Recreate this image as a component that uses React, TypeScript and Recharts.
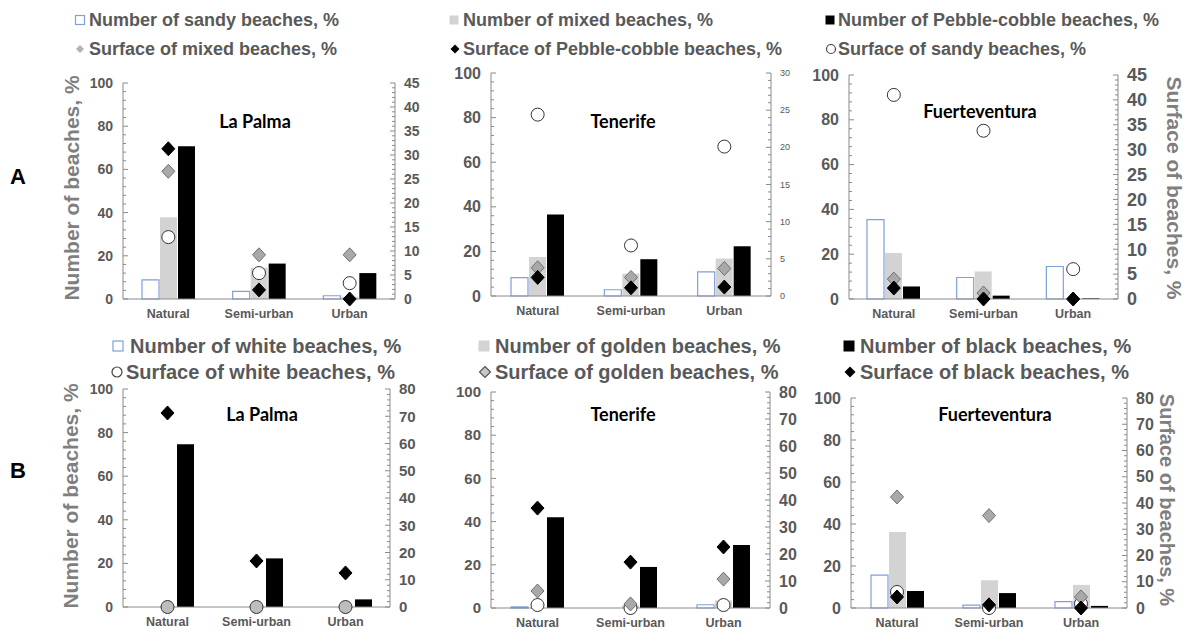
import React from "react";
import { Bar, ComposedChart, Line, XAxis, YAxis } from "recharts";

const categories = ["Natural", "Semi-urban", "Urban"];

// Row A: grain size. Number of beaches (%) on the left axis, surface (%) on the right axis
const aLaPalmaSandyNum = [8.9, 3.5, 1.5];
const aLaPalmaMixedNum = [37.8, 14.5, 1];
const aLaPalmaPebbleNum = [70.7, 16.4, 12];
const aLaPalmaSandySurf = [12.9, 5.4, 3.3];
const aLaPalmaMixedSurf = [26.6, 9.2, 9.2];
const aLaPalmaPebbleSurf = [31.3, 1.9, 0];

const aTenerifeSandyNum = [8.2, 2.8, 10.8];
const aTenerifeMixedNum = [17.5, 10, 16.8];
const aTenerifePebbleNum = [36.6, 16.5, 22.3];
const aTenerifeSandySurf = [24.4, 6.8, 20.1];
const aTenerifeMixedSurf = [3.8, 2.5, 3.7];
const aTenerifePebbleSurf = [2.5, 1.1, 1.2];

const aFuerteSandyNum = [35.4, 9.6, 14.5];
const aFuerteMixedNum = [20.5, 12.3, 0];
const aFuertePebbleNum = [5.6, 1.5, 0.3];
const aFuerteSandySurf = [41, 33.8, 6];
const aFuerteMixedSurf = [4, 1.2, 0];
const aFuertePebbleSurf = [2.2, 0, 0];

// Row B: colour
const bLaPalmaWhiteNum = [0, 0, 0];
const bLaPalmaGoldenNum = [0, 0, 0];
const bLaPalmaBlackNum = [74.7, 22.3, 3.5];
const bLaPalmaWhiteSurf = [0, 0, 0];
const bLaPalmaGoldenSurf = [null, null, null];
const bLaPalmaBlackSurf = [71.2, 16.9, 12.5];

const bTenerifeWhiteNum = [0.5, 0, 1.5];
const bTenerifeGoldenNum = [0, 1.5, 3.5];
const bTenerifeBlackNum = [42, 19, 29.2];
const bTenerifeWhiteSurf = [1.1, 0, 1.1];
const bTenerifeGoldenSurf = [6.3, 1.5, 10.7];
const bTenerifeBlackSurf = [37, 17, 22.6];

const bFuerteWhiteNum = [15.7, 1.4, 3];
const bFuerteGoldenNum = [36.2, 13.2, 11];
const bFuerteBlackNum = [8.1, 7.1, 1];
const bFuerteWhiteSurf = [6.1, 0, 1.6];
const bFuerteGoldenSurf = [42.3, 35.2, 4.2];
const bFuerteBlackSurf = [4.2, 1.2, 0];

const topLegend1 = ["Number of sandy beaches, %", "Number of mixed beaches, %", "Number of Pebble-cobble beaches, %"];
const topLegend2 = ["Surface of mixed beaches, %", "Surface of Pebble-cobble beaches, %", "Surface of sandy beaches, %"];
const botLegend1 = ["Number of white beaches, %", "Number of golden beaches, %", "Number of black beaches, %"];
const botLegend2 = ["Surface of white beaches, %", "Surface of golden beaches, %", "Surface of black beaches, %"];

const AXIS = "#8a8a8a";
const TXT = "#595959";
const FONT = "'Liberation Sans', Arial, sans-serif";
const BLUE = "#7fa0dc";
const LIGHT = "#d3d3d3";

type Panel = {
  title: string;
  titleX: number;
  titleY: number;
  left: number;
  right: number;
  top: number;
  bottom: number;
  rightMax: number;
  rightStep: number;
  rightMinor: number;
  leftFont: number;
  rightFont: number;
  rightBold: boolean;
  n1: number[];
  n2: number[];
  n3: number[];
  sCircle: (number | null)[];
  sGray: (number | null)[];
  sBlack: (number | null)[];
  circleFill: string;
};

const panels: Panel[] = [
  {
    title: "La Palma", titleX: 255, titleY: 122,
    left: 123, right: 395, top: 83, bottom: 299,
    rightMax: 45, rightStep: 5, rightMinor: 1, leftFont: 14, rightFont: 14, rightBold: true,
    n1: aLaPalmaSandyNum, n2: aLaPalmaMixedNum, n3: aLaPalmaPebbleNum,
    sCircle: aLaPalmaSandySurf, sGray: aLaPalmaMixedSurf, sBlack: aLaPalmaPebbleSurf, circleFill: "#fff",
  },
  {
    title: "Tenerife", titleX: 623, titleY: 122,
    left: 491, right: 771, top: 73, bottom: 296,
    rightMax: 30, rightStep: 5, rightMinor: 1, leftFont: 16, rightFont: 9, rightBold: false,
    n1: aTenerifeSandyNum, n2: aTenerifeMixedNum, n3: aTenerifePebbleNum,
    sCircle: aTenerifeSandySurf, sGray: aTenerifeMixedSurf, sBlack: aTenerifePebbleSurf, circleFill: "#fff",
  },
  {
    title: "Fuerteventura", titleX: 980, titleY: 112,
    left: 849, right: 1118, top: 75, bottom: 299,
    rightMax: 45, rightStep: 5, rightMinor: 1, leftFont: 16, rightFont: 18, rightBold: true,
    n1: aFuerteSandyNum, n2: aFuerteMixedNum, n3: aFuertePebbleNum,
    sCircle: aFuerteSandySurf, sGray: aFuerteMixedSurf, sBlack: aFuertePebbleSurf, circleFill: "#fff",
  },
  {
    title: "La Palma", titleX: 262, titleY: 415,
    left: 123, right: 390, top: 389, bottom: 607,
    rightMax: 80, rightStep: 10, rightMinor: 2, leftFont: 14, rightFont: 15, rightBold: true,
    n1: bLaPalmaWhiteNum, n2: bLaPalmaGoldenNum, n3: bLaPalmaBlackNum,
    sCircle: bLaPalmaWhiteSurf, sGray: bLaPalmaGoldenSurf, sBlack: bLaPalmaBlackSurf, circleFill: "#bdbdbd",
  },
  {
    title: "Tenerife", titleX: 623, titleY: 415,
    left: 491, right: 770, top: 392, bottom: 608,
    rightMax: 80, rightStep: 10, rightMinor: 2, leftFont: 15, rightFont: 16, rightBold: true,
    n1: bTenerifeWhiteNum, n2: bTenerifeGoldenNum, n3: bTenerifeBlackNum,
    sCircle: bTenerifeWhiteSurf, sGray: bTenerifeGoldenSurf, sBlack: bTenerifeBlackSurf, circleFill: "#fff",
  },
  {
    title: "Fuerteventura", titleX: 995, titleY: 415,
    left: 851, right: 1127, top: 398, bottom: 608,
    rightMax: 80, rightStep: 10, rightMinor: 2, leftFont: 16, rightFont: 16, rightBold: true,
    n1: bFuerteWhiteNum, n2: bFuerteGoldenNum, n3: bFuerteBlackNum,
    sCircle: bFuerteWhiteSurf, sGray: bFuerteGoldenSurf, sBlack: bFuerteBlackSurf, circleFill: "#fff",
  },
];

const steps = (max: number, step: number) => {
  const out: number[] = [];
  for (let v = 0; v <= max + 1e-9; v += step) out.push(Math.round(v * 100) / 100);
  return out;
};

function LeftTick(props: any) {
  const { x, y, payload, font } = props;
  const v = payload.value;
  const major = v % 20 === 0;
  return (
    <g>
      <line x1={x} x2={x + (major ? 5 : 3)} y1={y} y2={y} stroke={AXIS} />
      {major && (
        <text x={x - 10} y={y} dy="0.35em" textAnchor="end" fontSize={font} fontWeight={700} fontFamily={FONT} fill={TXT}>
          {v}
        </text>
      )}
    </g>
  );
}

function RightTick(props: any) {
  const { x, y, payload, font, bold, step } = props;
  const v = payload.value;
  const major = Math.abs(v % step) < 1e-6;
  return (
    <g>
      <line x1={x} x2={x - (major ? 5 : 3)} y1={y} y2={y} stroke={AXIS} />
      {major && (
        <text x={x + 9} y={y} dy="0.35em" textAnchor="start" fontSize={font} fontWeight={bold ? 700 : 400} fontFamily={FONT} fill={TXT}>
          {v}
        </text>
      )}
    </g>
  );
}

const circleDot = (fill: string) => (props: any) => {
  const { cx, cy, index } = props;
  if (cx == null || cy == null || props.value == null) return <g key={`c${index}`} />;
  return <circle key={`c${index}`} cx={cx} cy={cy} r={6.5} fill={fill} stroke="#333" strokeWidth={1} />;
};

const diamondDot = (fill: string, stroke: string) => (props: any) => {
  const { cx, cy, index } = props;
  if (cx == null || cy == null || props.value == null) return <g key={`d${index}`} />;
  const pts = `${cx},${cy - 7} ${cx + 6.5},${cy} ${cx},${cy + 7} ${cx - 6.5},${cy}`;
  return <polygon key={`d${index}`} points={pts} fill={fill} stroke={stroke} strokeWidth={1} />;
};

function PanelChart({ p }: { p: Panel }) {
  const padL = 60;
  const padR = 60;
  const padT = 12;
  const padB = 34;
  const w = p.right - p.left + padL + padR;
  const h = p.bottom - p.top + padT + padB;
  const rows = categories.map((cat, i) => ({
    cat,
    n1: p.n1[i],
    n2: p.n2[i],
    n3: p.n3[i],
    sCircle: p.sCircle[i],
    sGray: p.sGray[i],
    sBlack: p.sBlack[i],
  }));

  return (
    <div style={{ position: "absolute", left: p.left - padL, top: p.top - padT }}>
      <ComposedChart width={w} height={h} data={rows} margin={{ top: padT, right: 0, bottom: 0, left: 0 }} barGap={1}>
        <XAxis
          dataKey="cat"
          height={padB}
          interval={0}
          axisLine={{ stroke: AXIS }}
          tickLine={false}
          tickSize={0}
          tickMargin={10}
          tick={{ fontSize: 12.5, fontWeight: 700, fill: TXT, fontFamily: FONT }}
        />
        <YAxis
          yAxisId="left"
          width={padL}
          domain={[0, 100]}
          ticks={steps(100, 4)}
          interval={0}
          tickSize={0}
          tickMargin={0}
          tickLine={false}
          axisLine={{ stroke: AXIS }}
          tick={(t: any) => <LeftTick {...t} font={p.leftFont} />}
        />
        <YAxis
          yAxisId="right"
          orientation="right"
          width={padR}
          domain={[0, p.rightMax]}
          ticks={steps(p.rightMax, p.rightMinor)}
          interval={0}
          tickSize={0}
          tickMargin={0}
          tickLine={false}
          axisLine={{ stroke: AXIS }}
          tick={(t: any) => <RightTick {...t} font={p.rightFont} bold={p.rightBold} step={p.rightStep} />}
        />
        <Bar yAxisId="left" dataKey="n1" fill="#fff" stroke={BLUE} strokeWidth={1.2} barSize={17} isAnimationActive={false} />
        <Bar yAxisId="left" dataKey="n2" fill={LIGHT} barSize={17} isAnimationActive={false} />
        <Bar yAxisId="left" dataKey="n3" fill="#000" barSize={17} isAnimationActive={false} />
        <Line yAxisId="right" dataKey="sCircle" stroke="none" strokeWidth={0} dot={circleDot(p.circleFill)} activeDot={false} isAnimationActive={false} />
        <Line yAxisId="right" dataKey="sGray" stroke="none" strokeWidth={0} dot={diamondDot("#a9a9a9", "#6f6f6f")} activeDot={false} isAnimationActive={false} />
        <Line yAxisId="right" dataKey="sBlack" stroke="none" strokeWidth={0} dot={diamondDot("#000", "#000")} activeDot={false} isAnimationActive={false} />
      </ComposedChart>
    </div>
  );
}

function Icon({ kind, cx, cy, s }: { kind: string; cx: number; cy: number; s: number }) {
  const hs = s / 2;
  if (kind === "white") return <rect x={cx - hs} y={cy - hs} width={s} height={s} fill="#fff" stroke={BLUE} strokeWidth={1.2} />;
  if (kind === "gray") return <rect x={cx - hs} y={cy - hs} width={s} height={s} fill={LIGHT} />;
  if (kind === "black") return <rect x={cx - hs} y={cy - hs} width={s} height={s} fill="#000" />;
  if (kind === "circle") return <circle cx={cx} cy={cy} r={hs} fill="#fff" stroke="#444" strokeWidth={1.2} />;
  const pts = `${cx},${cy - hs} ${cx + hs},${cy} ${cx},${cy + hs} ${cx - hs},${cy}`;
  if (kind === "gdiamond") return <polygon points={pts} fill="#b3b3b3" />;
  if (kind === "gdiamondo") return <polygon points={pts} fill="#c8c8c8" stroke="#555" strokeWidth={1.2} />;
  return <polygon points={pts} fill="#000" />;
}

function LegendItem({ kind, cx, tx, y, size, s, label }: any) {
  return (
    <g>
      <Icon kind={kind} cx={cx} cy={y} s={s} />
      <text x={tx} y={y} dy="0.36em" fontSize={size} fontWeight={700} fontFamily={FONT} fill={TXT}>
        {label}
      </text>
    </g>
  );
}

export default function App() {
  return (
    <div style={{ position: "absolute", left: 0, top: 0, width: 1187, height: 632, background: "#fff", overflow: "hidden" }}>
      {panels.map((p, i) => (
        <PanelChart key={i} p={p} />
      ))}
      <svg width={1187} height={632} style={{ position: "absolute", left: 0, top: 0, pointerEvents: "none" }}>
        <LegendItem kind="white" cx={80} tx={89} y={20} size={18} s={9} label={topLegend1[0]} />
        <LegendItem kind="gray" cx={454} tx={463} y={20} size={18} s={9} label={topLegend1[1]} />
        <LegendItem kind="black" cx={830} tx={838} y={20} size={18} s={9} label={topLegend1[2]} />
        <LegendItem kind="gdiamond" cx={80} tx={89} y={49} size={18} s={8} label={topLegend2[0]} />
        <LegendItem kind="bdiamond" cx={455} tx={463} y={49} size={18} s={9} label={topLegend2[1]} />
        <LegendItem kind="circle" cx={831} tx={838} y={49} size={18} s={9} label={topLegend2[2]} />

        <LegendItem kind="white" cx={118} tx={130} y={346} size={20} s={10} label={botLegend1[0]} />
        <LegendItem kind="gray" cx={484} tx={495} y={346} size={20} s={11} label={botLegend1[1]} />
        <LegendItem kind="black" cx={849} tx={860} y={346} size={20} s={11} label={botLegend1[2]} />
        <LegendItem kind="circle" cx={117} tx={126} y={372} size={20} s={10} label={botLegend2[0]} />
        <LegendItem kind="gdiamondo" cx={485} tx={495} y={372} size={20} s={11} label={botLegend2[1]} />
        <LegendItem kind="bdiamond" cx={850} tx={860} y={372} size={20} s={11} label={botLegend2[2]} />

        {panels.map((p, i) => (
          <text key={i} x={p.titleX} y={p.titleY} dy="0.35em" textAnchor="middle" fontSize={18} fontWeight={700} fontFamily="Lato, 'Open Sans', sans-serif" fill="#000">
            {p.title}
          </text>
        ))}

        <text transform="translate(72,188) rotate(-90)" textAnchor="middle" dy="0.35em" fontSize={21} fontWeight={700} fontFamily={FONT} fill="#7f7f7f">
          Number of beaches, %
        </text>
        <text transform="translate(71,496) rotate(-90)" textAnchor="middle" dy="0.35em" fontSize={21} fontWeight={700} fontFamily={FONT} fill="#7f7f7f">
          Number of beaches, %
        </text>
        <text transform="translate(1174,188) rotate(90)" textAnchor="middle" dy="0.35em" fontSize={21} fontWeight={700} fontFamily={FONT} fill="#7f7f7f">
          Surface of beaches, %
        </text>
        <text transform="translate(1167,500) rotate(90)" textAnchor="middle" dy="0.35em" fontSize={20} fontWeight={700} fontFamily={FONT} fill="#7f7f7f">
          Surface of beaches, %
        </text>

        <text x={18} y={176} dy="0.35em" textAnchor="middle" fontSize={22} fontWeight={700} fontFamily={FONT} fill="#000">
          A
        </text>
        <text x={18} y={470} dy="0.35em" textAnchor="middle" fontSize={22} fontWeight={700} fontFamily={FONT} fill="#000">
          B
        </text>
      </svg>
    </div>
  );
}
